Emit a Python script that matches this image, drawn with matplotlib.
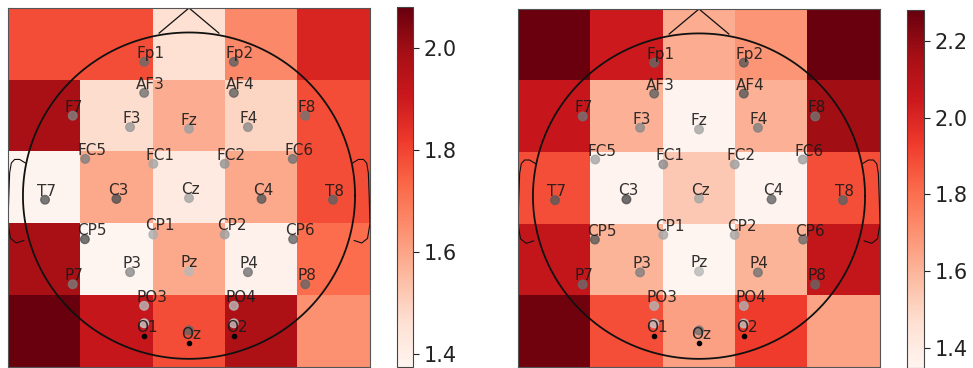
import numpy as np
import matplotlib.pyplot as plt
from matplotlib.ticker import MultipleLocator

# 5x5 band-power grids (rows: frontal -> occipital, cols: left -> right)
grid_a = [[1.78, 1.78, 1.46, 1.66, 1.87],
          [1.98, 1.47, 1.58, 1.49, 1.78],
          [1.38, 1.59, 1.42, 1.59, 1.78],
          [1.98, 1.375, 1.59, 1.39, 1.72],
          [2.08, 1.92, 1.78, 1.97, 1.64]]
grid_b = [[2.27, 2.04, 1.62, 1.69, 2.28],
          [2.06, 1.61, 1.357, 1.61, 2.17],
          [1.88, 1.357, 1.54, 1.357, 1.88],
          [2.07, 1.60, 1.348, 1.60, 2.07],
          [2.26, 1.88, 1.655, 1.93, 1.65]]

channels = ['Fp1', 'AF3', 'F3', 'F7', 'FC5', 'FC1', 'C3', 'T7', 'CP5', 'CP1',
            'P3', 'P7', 'PO3', 'O1', 'Oz', 'Pz', 'Fp2', 'AF4', 'Fz', 'F4',
            'F8', 'FC6', 'FC2', 'Cz', 'C4', 'T8', 'CP6', 'CP2', 'P4', 'P8',
            'PO4', 'O2']
# per-channel shade of the electrode markers (0 = black, 1 = white)
shade_a = [.42, .45, .60, .50, .50, .65, .32, .35, .33, .68,
           .55, .48, .72, .78, .40, .72, .38, .38, .62, .55,
           .45, .45, .58, .65, .35, .38, .40, .62, .45, .40,
           .72, .75]
shade_b = [.40, .38, .55, .45, .65, .55, .30, .35, .35, .65,
           .50, .42, .70, .78, .45, .72, .35, .35, .65, .50,
           .45, .62, .62, .65, .40, .38, .42, .65, .45, .40,
           .68, .75]

# 2d montage, head radius = 1
montage = {
    'Fp1': (-0.27, 0.82), 'Fp2': (0.27, 0.82),
    'AF3': (-0.27, 0.63), 'AF4': (0.27, 0.63),
    'F7': (-0.70, 0.49), 'F8': (0.70, 0.49),
    'F3': (-0.355, 0.42), 'F4': (0.355, 0.42), 'Fz': (0.0, 0.41),
    'FC5': (-0.625, 0.225), 'FC6': (0.625, 0.225),
    'FC1': (-0.215, 0.195), 'FC2': (0.215, 0.195),
    'T7': (-0.867, -0.025), 'T8': (0.867, -0.025),
    'C3': (-0.437, -0.02), 'C4': (0.437, -0.02), 'Cz': (0.0, -0.015),
    'CP5': (-0.627, -0.267), 'CP6': (0.627, -0.267),
    'CP1': (-0.215, -0.238), 'CP2': (0.215, -0.238),
    'P7': (-0.70, -0.543), 'P8': (0.70, -0.543),
    'P3': (-0.355, -0.469), 'P4': (0.355, -0.469), 'Pz': (0.0, -0.463),
    'PO3': (-0.27, -0.675), 'PO4': (0.27, -0.675),
    'O1': (-0.27, -0.857), 'O2': (0.27, -0.857), 'Oz': (0.0, -0.90),
}
# occipital markers sit a bit above their sensor point
marker_shift = {'O1': 0.075, 'O2': 0.075, 'Oz': 0.075}

XLIM = (-1.09, 1.09)
YLIM = (-1.05, 1.15)


def draw_head(ax):
    t = np.linspace(0, 2 * np.pi, 200)
    ax.plot(np.cos(t), np.sin(t), color='#111111', lw=1.3)
    ax.plot([0.18, 0, -0.18], [0.996, 1.15, 0.996], color='#111111', lw=0.9)
    ear_x = np.array([0.985, 1.02, 1.05, 1.07, 1.08, 1.085, 1.09, 1.075, 1.04, 0.995])
    ear_y = np.array([0.20, 0.222, 0.222, 0.20, 0.14, 0.0, -0.17, -0.262, -0.29, -0.275])
    ax.plot(ear_x, ear_y, color='#111111', lw=0.8)
    ax.plot(-ear_x, ear_y, color='#111111', lw=0.8)


def draw_panel(fig, rect, cbar_rect, grid, shade):
    ax = fig.add_axes(rect)
    im = ax.imshow(np.array(grid), cmap='Reds', interpolation='nearest',
                   extent=(XLIM[0], XLIM[1], YLIM[0], YLIM[1]), aspect='auto')
    draw_head(ax)

    xs = np.array([montage[c][0] for c in channels])
    ys = np.array([montage[c][1] for c in channels])
    ys_m = ys + np.array([marker_shift.get(c, 0.0) for c in channels])
    shifted = np.array([c in marker_shift for c in channels])
    ax.scatter(xs[shifted], ys[shifted], s=9, color='k', zorder=3)
    ax.scatter(xs, ys_m, s=38, c=shade, cmap='gray', vmin=0, vmax=1,
               alpha=0.8, zorder=4)
    for c, x, y in zip(channels, xs, ys):
        ax.annotate(c, (x, y), xytext=(-8, 4), textcoords='offset pixels',
                    ha='left', va='baseline', fontsize=11, color='#1a1a1a',
                    alpha=0.9, zorder=5)

    ax.set_xlim(XLIM)
    ax.set_ylim(YLIM)
    ax.set_xticks([])
    ax.set_yticks([])
    for sp in ax.spines.values():
        sp.set_color('#555555')

    cax = fig.add_axes(cbar_rect)
    cb = fig.colorbar(im, cax=cax)
    cb.locator = MultipleLocator(0.2)
    cb.update_ticks()
    cb.outline.set_edgecolor('#444444')
    cb.ax.tick_params(labelsize=15, length=4, colors='#222222')


def main():
    W, H = 973, 368
    fig = plt.figure(figsize=(W / 100, H / 100), dpi=100)
    draw_panel(fig, [8 / W, 1 / H, 362 / W, 359 / H],
               [397 / W, 1 / H, 16 / W, 360 / H], grid_a, shade_a)
    draw_panel(fig, [518 / W, 1 / H, 362 / W, 358 / H],
               [907 / W, 0 / H, 17 / W, 358 / H], grid_b, shade_b)
    fig.savefig('out.png', dpi=100)


if __name__ == '__main__':
    main()
